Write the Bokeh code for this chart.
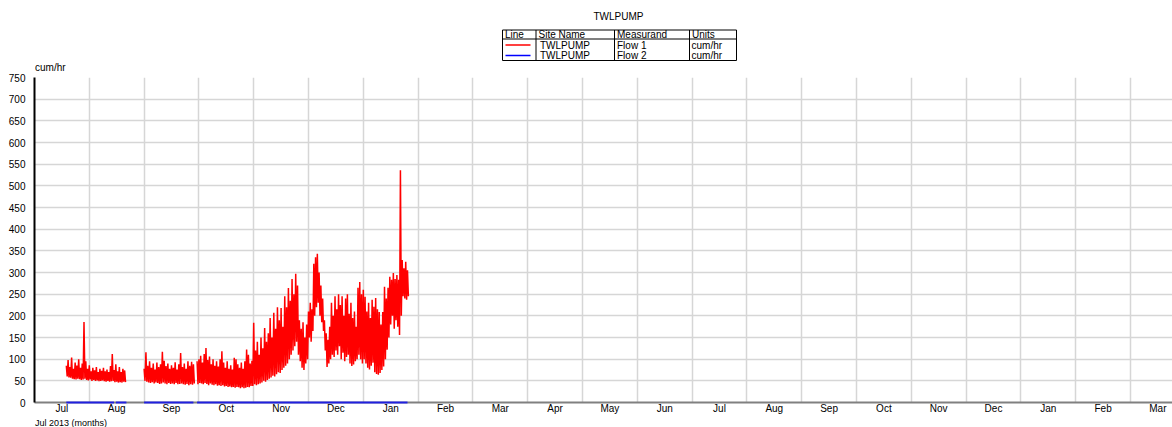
import calendar
from datetime import datetime, timedelta

from bokeh.plotting import figure
from bokeh.models import FixedTicker, ColumnDataSource
from bokeh.layouts import column
from bokeh.embed import file_html
from bokeh.resources import INLINE
from bokeh.core.properties import value

# ---------------- data ----------------
TITLE = "TWLPUMP"
UNIT_LABEL = "cum/hr"
X_TITLE = "Jul 2013 (months)"
MONTHS = ["Jul", "Aug", "Sep", "Oct", "Nov", "Dec", "Jan", "Feb", "Mar", "Apr", "May",
          "Jun", "Jul", "Aug", "Sep", "Oct", "Nov", "Dec", "Jan", "Feb", "Mar"]
Y_TICKS = [0, 50, 100, 150, 200, 250, 300, 350, 400, 450, 500, 550, 600, 650, 700, 750]

LEGEND_HEADERS = ["Line", "Site Name", "Measurand", "Units"]
LEGEND_SITES = ["TWLPUMP", "TWLPUMP"]
LEGEND_MEASURANDS = ["Flow 1", "Flow 2"]
LEGEND_UNITS = ["cum/hr", "cum/hr"]
LEGEND_COLORS = ["#ff0000", "#0000ff"]

# Flow 1: 12-hourly readings (cum/hr), per recording segment
FLOW1_SEG_STARTS = ["2013-07-19", "2013-09-01", "2013-09-30"]
flow1_seg1 = [85, 60, 98, 58, 82, 57, 104, 55, 78, 54, 92, 53, 85, 55, 100, 54, 80, 52, 90, 53,
              186, 55, 95, 52, 78, 51, 86, 53, 72, 50, 80, 52, 74, 50, 82, 51, 70, 49, 78, 50,
              73, 51, 80, 49, 72, 48, 76, 50, 70, 48, 84, 49, 112, 50, 75, 47, 88, 48, 72, 46,
              82, 47, 70, 46, 78, 48, 74, 47]
flow1_seg2 = [78, 50, 116, 48, 85, 46, 95, 45, 80, 47, 90, 44, 76, 46, 92, 45, 82, 43, 88, 44,
              117, 46, 96, 44, 84, 42, 90, 45, 78, 43, 86, 44, 80, 42, 93, 45, 76, 42, 88, 43,
              114, 44, 82, 42, 90, 41, 78, 43, 95, 40, 85, 42, 94, 41, 88, 44]
flow1_seg3 = [95, 42,
              # Oct
              100, 45, 108, 44, 92, 42, 112, 45, 126, 43, 98, 40, 106, 44, 88, 41, 100, 40, 85, 42,
              95, 39, 83, 40, 100, 38, 118, 40, 92, 37, 80, 38, 95, 36, 78, 37, 86, 35, 76, 36,
              103, 34, 100, 36, 88, 35, 80, 33, 92, 35, 78, 33, 95, 34, 122, 36, 110, 35, 90, 38,
              96, 38,
              # Nov
              184, 42, 120, 40, 140, 42, 110, 44, 150, 46, 125, 50, 172, 48, 140, 52, 160, 55, 195, 58,
              150, 62, 207, 60, 170, 65, 220, 70, 190, 68, 218, 75, 175, 80, 245, 85, 220, 90, 264, 100,
              235, 110, 285, 120, 250, 130, 297, 140, 270, 110, 190, 95, 170, 80, 185, 75, 150, 90, 180, 100,
              # Dec
              210, 150, 230, 140, 215, 165, 320, 200, 335, 220, 343, 230, 300, 200, 270, 185, 240, 165, 190, 120,
              160, 82, 145, 90, 175, 100, 230, 110, 200, 105, 245, 120, 215, 110, 250, 130, 225, 100, 245, 115,
              200, 95, 240, 105, 250, 110, 205, 90, 230, 84, 195, 88, 210, 95, 175, 100, 265, 110, 278, 100,
              250, 90,
              # Jan
              260, 100, 244, 90, 210, 80, 230, 76, 195, 85, 237, 92, 221, 70, 241, 66, 215, 64, 209, 68,
              180, 75, 209, 83, 267, 100, 240, 122, 265, 150, 290, 180, 283, 200, 299, 170, 285, 190, 294, 175,
              283, 156, 536, 200, 329, 245, 310, 240, 325, 237, 305, 245]
FLOW1_SEGMENTS = [flow1_seg1, flow1_seg2, flow1_seg3]

# Flow 2: constant 0 over its recording periods
FLOW2_STARTS = ["2013-07-19", "2013-08-16", "2013-09-01", "2013-09-30"]
FLOW2_ENDS = ["2013-08-15", "2013-08-22", "2013-09-28", "2014-01-26"]
FLOW2_VALUES = [0, 0, 0, 0]


def month_pos(dt):
    """Position on the months axis (each month has equal width)."""
    idx = (dt.year - 2013) * 12 + (dt.month - 7)
    nd = calendar.monthrange(dt.year, dt.month)[1]
    return idx + (dt.day - 1 + dt.hour / 24.0) / nd


xs, ys = [], []
for start, vals in zip(FLOW1_SEG_STARTS, FLOW1_SEGMENTS):
    t0 = datetime.strptime(start, "%Y-%m-%d")
    for i, v in enumerate(vals):
        xs.append(month_pos(t0 + timedelta(hours=12 * i)))
        ys.append(v)
    xs.append(float("nan"))
    ys.append(float("nan"))
flow1_src = ColumnDataSource(dict(x=xs, y=ys))

flow2_src = ColumnDataSource(dict(
    x0=[month_pos(datetime.strptime(s, "%Y-%m-%d")) for s in FLOW2_STARTS],
    x1=[month_pos(datetime.strptime(s, "%Y-%m-%d")) for s in FLOW2_ENDS],
    y0=FLOW2_VALUES, y1=FLOW2_VALUES))

FONT = "Liberation Sans"
W = 1172
LEFT = 34          # left edge of every frame (frames are aligned in the column)
H_HDR = 72
MAIN_H = 344
FOOT_H = 427 - H_HDR - MAIN_H


def bare(h):
    fig = figure(width=W, height=h, x_range=(LEFT, W), y_range=(0, h),
                 output_backend="svg", toolbar_location=None, x_axis_type=None, y_axis_type=None,
                 min_border=0, min_border_left=LEFT, min_border_right=0,
                 min_border_top=0, min_border_bottom=0)
    fig.outline_line_color = None
    fig.xgrid.visible = False
    fig.ygrid.visible = False
    return fig


def txt(fig, x, y, t, align="left", baseline="middle", size="10px"):
    fig.text(x=x, y=y, text=t, text_font=value(FONT), text_font_size=value(size),
             text_align=align, text_baseline=baseline, text_color="black")


# ---------------- header (title + legend table), data coords = page px ----------------
hdr = bare(H_HDR)
Y0 = H_HDR  # page y -> data y: Y0 - page_y
tl, tr = 502, 736
col_x = [502, 535.5, 614, 689, 736]
t_top, t_hdr, t_bot = Y0 - 29.5, Y0 - 38.5, Y0 - 60
txt(hdr, [618], [Y0 - 15.5], [TITLE], align="center")
hdr.segment(x0=[tl, tl, tl] + col_x, y0=[t_top, t_bot, t_hdr] + [t_top] * 5,
            x1=[tr, tr, tr] + col_x, y1=[t_top, t_bot, t_hdr] + [t_bot] * 5,
            line_color="black", line_width=1)
txt(hdr, [c + 2.5 for c in col_x[:4]], [Y0 - 34] * 4, LEGEND_HEADERS)
row_y = [Y0 - 44.5, Y0 - 55]
leg_src = ColumnDataSource(dict(x0=[505, 505], x1=[530, 530], y=row_y, c=LEGEND_COLORS))
hdr.segment(x0="x0", x1="x1", y0="y", y1="y", line_color="c", line_width=1.5, source=leg_src)
txt(hdr, [col_x[1] + 4] * 2, row_y, LEGEND_SITES)
txt(hdr, [col_x[2] + 2.5] * 2, row_y, LEGEND_MEASURANDS)
txt(hdr, [col_x[3] + 2] * 2, row_y, LEGEND_UNITS)
txt(hdr, [LEFT + 0.5], [Y0 - 66.5], [UNIT_LABEL])

# ---------------- main chart ----------------
p = figure(width=W, height=MAIN_H, x_range=(0, (W - LEFT) / 54.8), y_range=(0, 750),
           output_backend="svg", toolbar_location=None,
           min_border_left=LEFT, min_border_right=0, min_border_top=77 - H_HDR,
           min_border_bottom=14)
p.outline_line_color = None
p.background_fill_color = "white"

p.xaxis.ticker = FixedTicker(ticks=[i + 0.5 for i in range(len(MONTHS))],
                             minor_ticks=list(range(len(MONTHS))))
p.xaxis.major_label_overrides = {i + 0.5: m for i, m in enumerate(MONTHS)}
p.xaxis.major_tick_line_color = None
p.xaxis.major_tick_out = 0
p.xaxis.major_tick_in = 0
p.xaxis.minor_tick_out = 0
p.xaxis.minor_tick_in = 0
p.xaxis.minor_tick_line_color = None
p.xaxis.axis_line_color = "#808080"
p.xaxis.axis_line_width = 2
p.xaxis.major_label_standoff = 0
p.xaxis.major_label_text_font = FONT
p.xaxis.major_label_text_font_size = "10px"
p.xaxis.major_label_text_color = "black"

p.yaxis.ticker = FixedTicker(ticks=Y_TICKS)
p.yaxis.major_tick_line_color = None
p.yaxis.major_tick_out = 0
p.yaxis.major_tick_in = 0
p.yaxis.minor_tick_line_color = None
p.yaxis.axis_line_color = "black"
p.yaxis.axis_line_width = 2
p.yaxis.major_label_standoff = 9
p.yaxis.major_label_text_font = FONT
p.yaxis.major_label_text_font_size = "10px"
p.yaxis.major_label_text_color = "black"

p.xgrid.ticker = FixedTicker(ticks=list(range(1, len(MONTHS))))
p.xgrid.grid_line_color = "#d6d6d6"
p.xgrid.grid_line_width = 1.5
p.ygrid.grid_line_color = "#d6d6d6"
p.ygrid.grid_line_width = 1.5

p.line("x", "y", source=flow1_src, line_color=LEGEND_COLORS[0], line_width=1.5)
p.segment(x0="x0", y0="y0", x1="x1", y1="y1", source=flow2_src,
          line_color=LEGEND_COLORS[1], line_width=2, line_alpha=0.75, level="overlay")

# ---------------- footer (x-axis title) ----------------
ftr = bare(FOOT_H)
txt(ftr, [LEFT + 0.5], [FOOT_H / 2.0], [X_TITLE], size="9px")

layout = column(hdr, p, ftr, spacing=0)
open("out.html", "w").write(file_html(layout, INLINE))
